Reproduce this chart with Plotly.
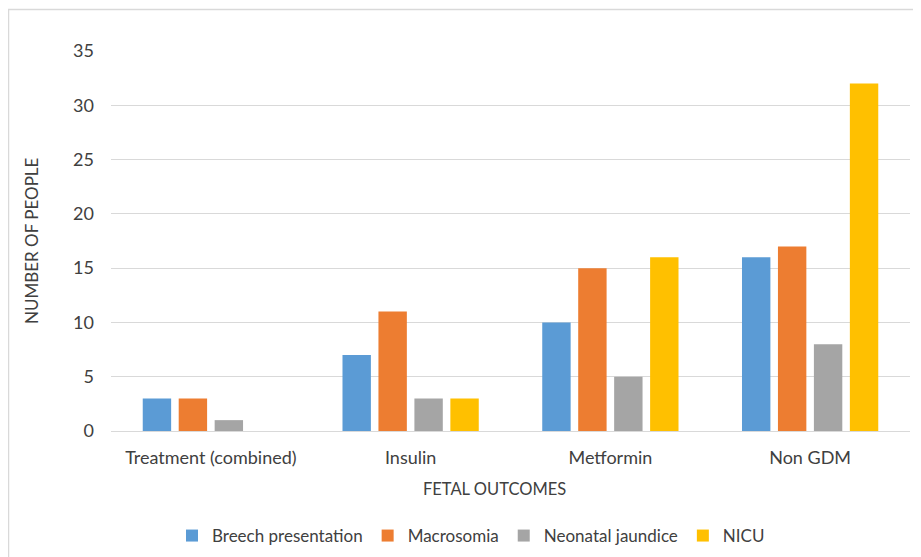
import plotly.graph_objects as go

categories = ["Treatment (combined)", "Insulin", "Metformin", "Non GDM"]
series_names = ["Breech presentation", "Macrosomia", "Neonatal jaundice", "NICU"]
breech = [3, 7, 10, 16]
macrosomia = [3, 11, 15, 17]
jaundice = [1, 3, 5, 8]
nicu = [0, 3, 16, 32]
y_ticks = [0, 5, 10, 15, 20, 25, 30, 35]

colors = ["#5B9BD5", "#ED7D31", "#A5A5A5", "#FFC000"]
FONT = "Lato, Carlito, Calibri, sans-serif"
TEXT = "#404040"

fig = go.Figure()
for name, vals, c in zip(series_names, [breech, macrosomia, jaundice, nicu], colors):
    fig.add_trace(go.Bar(name=name, x=categories, y=vals, marker=dict(color=c, line=dict(width=0))))

# page is shown with an 8px body margin, so figure coords = page coords - 8
OFF = 8
W, H = 921, 557
L, T = 111 - OFF, 51 - OFF
R = W - (910 - OFF)
B = H - (431 - OFF)
pw, ph = W - L - R, H - T - B

def px(xp):
    return (xp - OFF - L) / pw

def py(yp):
    return (H - B - (yp - OFF)) / ph

fig.update_layout(
    width=W, height=H,
    margin=dict(l=L, r=R, t=T, b=B, autoexpand=False),
    paper_bgcolor="white", plot_bgcolor="white",
    barmode="group", bargap=0.28, bargroupgap=0.21,
    font=dict(family=FONT, size=17, color=TEXT),
    showlegend=True,
    legend=dict(orientation="h", x=(471 - OFF) / W, xref="container", xanchor="center",
                y=1 - (536 - OFF) / H, yref="container", yanchor="middle",
                bgcolor="rgba(0,0,0,0)",
                font=dict(size=17, color=TEXT), traceorder="normal"),
    xaxis=dict(showgrid=False, showline=True, linecolor="#D9D9D9", linewidth=1,
               ticks="", tickfont=dict(size=18, color=TEXT), ticklabelstandoff=10),
    yaxis=dict(range=[0, 35], tickvals=y_ticks, showgrid=True, gridcolor="#D9D9D9",
               gridwidth=1, zeroline=False, showline=False, ticks="",
               tickfont=dict(size=18, color=TEXT), ticklabelstandoff=16),
)
fig.add_annotation(text="FETAL OUTCOMES", xref="paper", yref="paper",
                   x=px(494), y=py(489), showarrow=False,
                   font=dict(size=16.5, color=TEXT), xanchor="center", yanchor="middle")
fig.add_annotation(text="NUMBER OF PEOPLE", xref="paper", yref="paper",
                   x=px(31), y=py(241), showarrow=False, textangle=-90,
                   font=dict(size=17, color=TEXT), xanchor="center", yanchor="middle")
fig.add_shape(type="rect", xref="paper", yref="paper",
              x0=px(8.5), x1=px(940),
              y0=py(580), y1=py(9.5),
              line=dict(color="#D9D9D9", width=1.5), fillcolor="rgba(0,0,0,0)", layer="below")

fig.write_html("out.html")
